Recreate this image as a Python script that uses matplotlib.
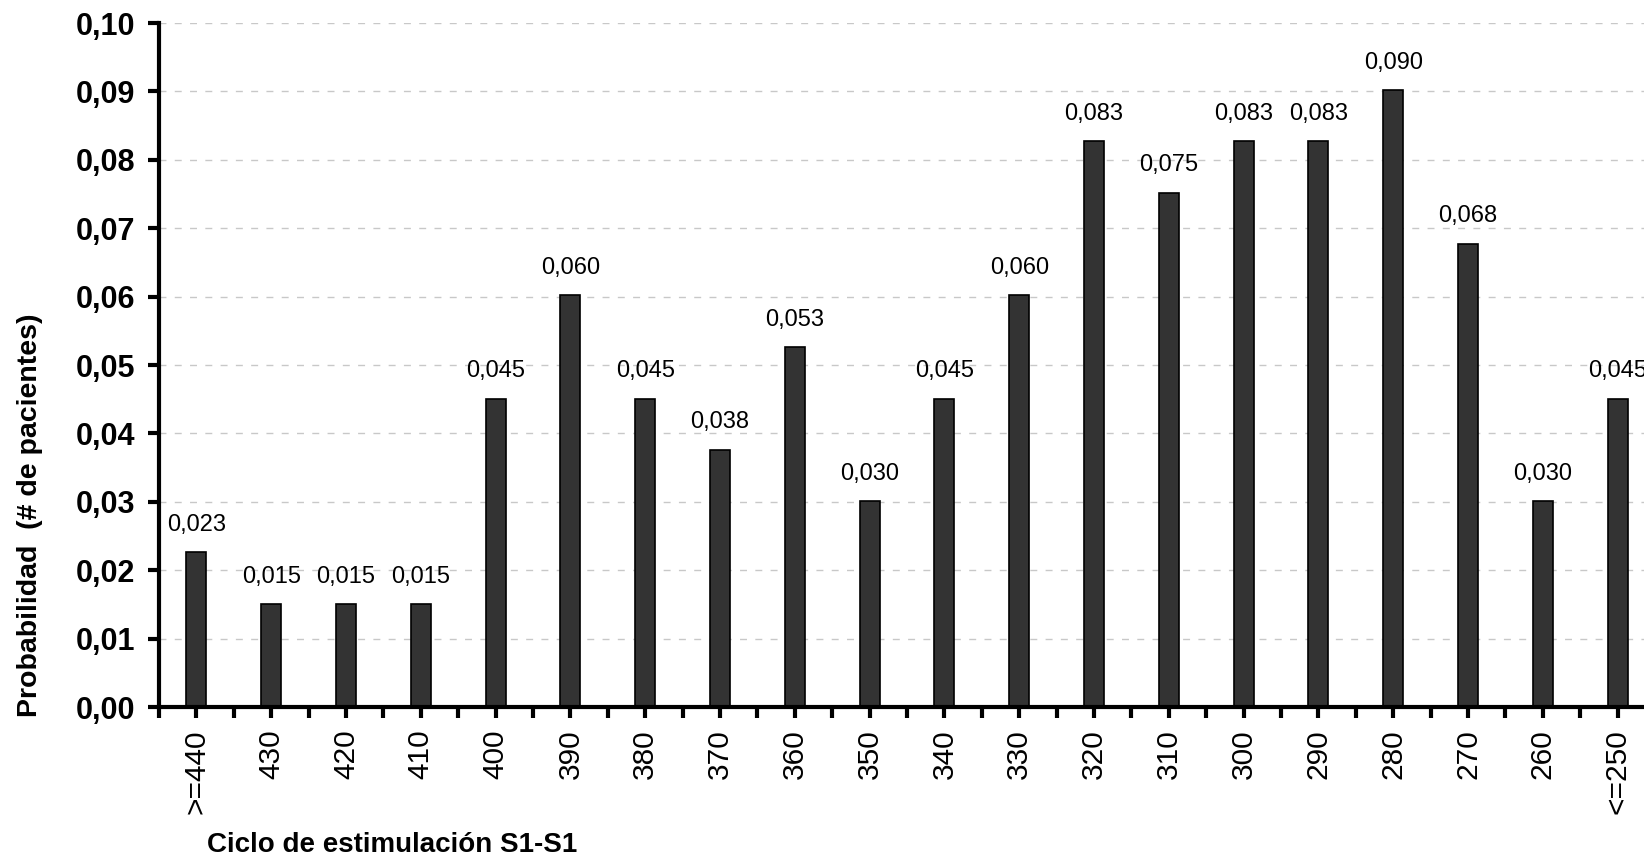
import matplotlib
matplotlib.use("Agg")
from matplotlib import pyplot as plt
from matplotlib.ticker import FixedLocator

plt.rcParams['font.family'] = ['Liberation Sans', 'DejaVu Sans']

# Ciclo de estimulación S1-S1 (ms), de mayor a menor
categorias = ['>=440', '430', '420', '410', '400', '390', '380', '370', '360', '350',
              '340', '330', '320', '310', '300', '290', '280', '270', '260', '<=250']
probabilidad = [0.0226, 0.0150, 0.0150, 0.0150, 0.0451, 0.0602, 0.0451, 0.0376, 0.0526, 0.0301,
                0.0451, 0.0602, 0.0827, 0.0752, 0.0827, 0.0827, 0.0902, 0.0677, 0.0301, 0.0451]
etiquetas_y = ['0,00', '0,01', '0,02', '0,03', '0,04', '0,05', '0,06', '0,07', '0,08', '0,09', '0,10']

fig = plt.figure(figsize=(16.44, 8.57), dpi=100)
# the axes run past the right edge of the figure, as in the original
ax = fig.add_axes([159 / 1644, 150 / 857, 1496 / 1644, 684 / 857])

x = list(range(len(categorias)))
ax.bar(x, probabilidad, width=0.27, color='#333333', edgecolor='black', linewidth=1.2, zorder=3)

# value labels above each bar
for xi, v in zip(x, probabilidad):
    ax.annotate(f"{v:.3f}".replace('.', ','), (xi, v), xytext=(0, 15.5), textcoords='offset points',
                ha='center', va='baseline', fontsize=17, zorder=4)

ax.set_xlim(-0.5, len(categorias) - 0.5)
ax.set_ylim(0, 0.10)

ax.set_xticks(x)
ax.set_xticklabels(categorias, rotation=90, fontsize=21.5)
ax.xaxis.set_minor_locator(FixedLocator([i - 0.5 for i in range(len(categorias) + 1)]))

yticks = [float(s.replace(',', '.')) for s in etiquetas_y]
ax.set_yticks(yticks)
ax.set_yticklabels(etiquetas_y, fontsize=22, fontweight='bold')

ax.tick_params(axis='x', which='both', direction='out', length=8, width=3, pad=8)
ax.tick_params(axis='y', which='major', direction='out', length=8, width=3, pad=9)

ax.grid(axis='y', linestyle=(0, (5, 6)), color='#c8c8c8', linewidth=1.0, zorder=0)

for side in ['top', 'right']:
    ax.spines[side].set_visible(False)
for side in ['left', 'bottom']:
    ax.spines[side].set_linewidth(3)
    ax.spines[side].set_zorder(5)

fig.text(207 / 1644, 5 / 857, 'Ciclo de estimulación S1-S1', fontsize=20, fontweight='bold',
         ha='left', va='baseline')
fig.text(30 / 1644, 342 / 857, 'Probabilidad  (# de pacientes)', fontsize=20.5, fontweight='bold',
         rotation=90, ha='center', va='center')

fig.savefig('out.png', dpi=100)
